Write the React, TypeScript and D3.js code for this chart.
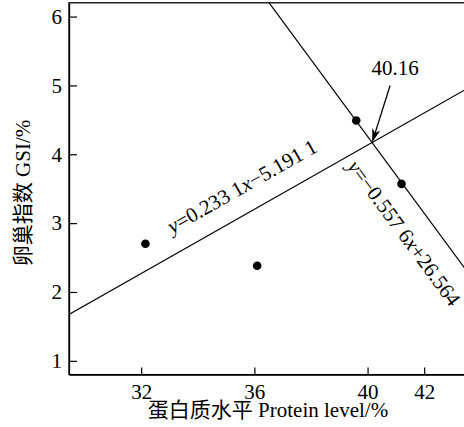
import React, { useRef, useEffect } from "react";
import * as d3 from "d3";

// tick values
const xTicks = [32, 36, 40, 42];
const yTicks = [1, 2, 3, 4, 5, 6];

// measured points: protein level (%) vs GSI (%)
const proteinLevel = [32.15, 36.1, 39.6, 41.2];
const gsiValue = [2.7, 2.38, 4.49, 3.57];

// the two fitted lines y = a*x + b
const slopes = [0.2331, -0.5576];
const intercepts = [-5.1911, 26.564];
// equation text, italic parts at index 0 and 2
const equationParts = [
  ["y", "=0.233 1", "x", "−5.191 1"],
  ["y", "=−0.557 6", "x", "+26.564"],
];
const labelStartX = [33.43, 40.25];

const xTitle = "蛋白质水平 Protein level/%";
const yTitle = "卵巢指数 GSI/%";

function App() {
  const svgRef = useRef(null);

  useEffect(() => {
    const width = 464,
      height = 427;
    const font = '"Liberation Serif", "Times New Roman", "Noto Sans CJK SC", serif';
    const fs = 21;

    const x = d3.scaleLinear().domain([29.45, 44]).range([69, 69 + 14.55 * 28.3]);
    const y = d3.scaleLinear().domain([0.8, 6.2]).range([374.6, 2.8]);
    const [x0, x1] = x.range();
    const [yb, yt] = y.range();

    const svg = d3.select(svgRef.current);
    svg.selectAll("*").remove();
    svg.attr("width", width).attr("height", height);

    svg.append("rect").attr("width", width).attr("height", height).attr("fill", "#fff");

    svg
      .append("defs")
      .append("clipPath")
      .attr("id", "plotClip")
      .append("rect")
      .attr("x", x0)
      .attr("y", yt)
      .attr("width", x1 - x0)
      .attr("height", yb - yt);

    // frame
    svg
      .append("rect")
      .attr("x", x0)
      .attr("y", yt)
      .attr("width", x1 - x0)
      .attr("height", yb - yt)
      .attr("fill", "none")
      .attr("stroke", "#000")
      .attr("stroke-width", 1.3);

    // ticks, pointing inward
    const xAxis = d3
      .axisBottom(x)
      .tickValues(xTicks)
      .tickFormat(d3.format("d"))
      .tickSize(-7)
      .tickPadding(15)
      .tickSizeOuter(0);
    const yAxis = d3
      .axisLeft(y)
      .tickValues(yTicks)
      .tickFormat(d3.format("d"))
      .tickSize(-8)
      .tickPadding(15)
      .tickSizeOuter(0);

    const gx = svg.append("g").attr("transform", `translate(0,${yb})`).call(xAxis);
    const gy = svg.append("g").attr("transform", `translate(${x0},0)`).call(yAxis);
    [gx, gy].forEach((g) => {
      g.select(".domain").attr("stroke", "#000").attr("stroke-width", 1.3);
      g.selectAll(".tick line").attr("stroke", "#000").attr("stroke-width", 1.2);
      g.selectAll(".tick text")
        .attr("font-family", font)
        .attr("font-size", fs)
        .attr("fill", "#000");
    });
    gx.selectAll(".tick text").attr("dy", "0.71em").attr("y", 9);
    gy.selectAll(".tick text").attr("x", -7);

    // regression lines
    const plot = svg.append("g").attr("clip-path", "url(#plotClip)");
    const line = d3
      .line()
      .x((d) => x(d[0]))
      .y((d) => y(d[1]));
    const dom = x.domain();
    slopes.forEach((a, i) => {
      const b = intercepts[i];
      plot
        .append("path")
        .attr("d", line(dom.map((v) => [v, a * v + b])))
        .attr("fill", "none")
        .attr("stroke", "#000")
        .attr("stroke-width", 1.2);
    });

    // points
    plot
      .selectAll("circle")
      .data(proteinLevel)
      .join("circle")
      .attr("cx", (d) => x(d))
      .attr("cy", (d, i) => y(gsiValue[i]))
      .attr("r", 4.3)
      .attr("fill", "#000");

    // equation labels along the lines
    const offsets = [-19, 35];
    slopes.forEach((a, i) => {
      const b = intercepts[i];
      const sx = labelStartX[i];
      const px = x(sx),
        py = y(a * sx + b);
      const ang =
        (Math.atan2(y(a * (sx + 1) + b) - py, x(sx + 1) - px) * 180) / Math.PI;
      const t = plot
        .append("text")
        .attr("transform", `translate(${px},${py}) rotate(${ang}) translate(0,${offsets[i]})`)
        .attr("font-family", font)
        .attr("font-size", fs)
        .attr("fill", "#000");
      equationParts[i].forEach((s, k) => {
        t.append("tspan")
          .attr("font-style", k % 2 === 0 ? "italic" : "normal")
          .text(s);
      });
    });

    // intersection arrow
    const ix = (intercepts[1] - intercepts[0]) / (slopes[0] - slopes[1]);
    const tipX = x(ix),
      tipY = y(slopes[0] * ix + intercepts[0]);
    const tailX = tipX + 18,
      tailY = tipY - 57;
    const len = Math.hypot(tailX - tipX, tailY - tipY);
    const ux = (tailX - tipX) / len,
      uy = (tailY - tipY) / len;
    svg
      .append("line")
      .attr("x1", tailX)
      .attr("y1", tailY)
      .attr("x2", tipX + ux * 8)
      .attr("y2", tipY + uy * 8)
      .attr("stroke", "#000")
      .attr("stroke-width", 1.3);
    const hl = 14,
      hw = 4.2;
    svg
      .append("polygon")
      .attr(
        "points",
        [
          [tipX, tipY],
          [tipX + ux * hl - uy * hw, tipY + uy * hl + ux * hw],
          [tipX + ux * (hl - 4), tipY + uy * (hl - 4)],
          [tipX + ux * hl + uy * hw, tipY + uy * hl - ux * hw],
        ]
          .map((p) => p.join(","))
          .join(" ")
      )
      .attr("fill", "#000");
    svg
      .append("text")
      .attr("x", tailX + 5)
      .attr("y", tailY - 11)
      .attr("text-anchor", "middle")
      .attr("font-family", font)
      .attr("font-size", fs)
      .text(d3.format(".2f")(ix));

    // axis titles
    svg
      .append("text")
      .attr("x", 268)
      .attr("y", 417)
      .attr("text-anchor", "middle")
      .attr("font-family", font)
      .attr("font-size", fs)
      .text(xTitle);
    svg
      .append("text")
      .attr("transform", `translate(30,193) rotate(-90)`)
      .attr("text-anchor", "middle")
      .attr("font-family", font)
      .attr("font-size", fs)
      .text(yTitle);
  }, []);

  return (
    <React.Fragment>
      <svg ref={svgRef} style={{ position: "absolute", left: 0, top: 0, display: "block" }}></svg>
    </React.Fragment>
  );
}

export default App;
